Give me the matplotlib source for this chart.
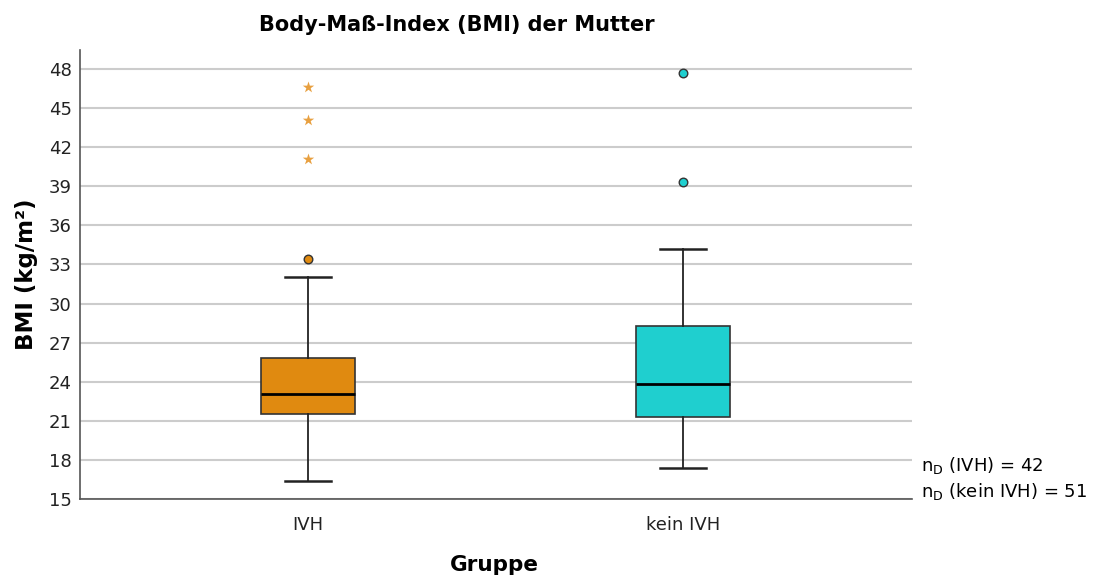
import matplotlib
matplotlib.use("Agg")
import matplotlib.pyplot as plt

plt.rcParams['font.family'] = ['DejaVu Sans']

categories = ["IVH", "kein IVH"]
q1 = [21.5, 21.27]
median = [23.03, 23.8]
q3 = [25.84, 28.28]
whislo = [16.4, 17.38]
whishi = [32.06, 34.19]
outliers_circle = [[33.42], [47.72, 39.33]]
outliers_star = [[46.6, 44.09, 41.07], []]
n_labels = ["n$_\\mathregular{D}$ (IVH) = 42", "n$_\\mathregular{D}$ (kein IVH) = 51"]

box_colors = ["#E08A10", "#1FCFCF"]
star_colors = ["#E8A040", "#1FCFCF"]
yticks = list(range(15, 49, 3))

fig = plt.figure(figsize=(10.94, 5.81), dpi=100)
ax = fig.add_axes([80/1094, 1 - 499/581, (912-80)/1094, (499-50)/581])

stats = []
for i, c in enumerate(categories):
    stats.append(dict(label=c, q1=q1[i], med=median[i], q3=q3[i],
                      whislo=whislo[i], whishi=whishi[i], fliers=[]))
bp = ax.bxp(stats, positions=[0, 1], widths=0.25, patch_artist=True,
            showfliers=False,
            medianprops=dict(color="black", linewidth=2),
            whiskerprops=dict(color="#222222", linewidth=1.3),
            capprops=dict(color="#222222", linewidth=1.8),
            boxprops=dict(edgecolor="#333333", linewidth=1.2),
            capwidths=0.123)
for patch, col in zip(bp['boxes'], box_colors):
    patch.set_facecolor(col)

for i in range(len(categories)):
    if outliers_circle[i]:
        ax.scatter([i]*len(outliers_circle[i]), outliers_circle[i], s=38,
                   facecolor=box_colors[i], edgecolor="#333333", linewidth=1.0, zorder=4)
    if outliers_star[i]:
        ax.scatter([i]*len(outliers_star[i]), outliers_star[i], marker='*', s=75,
                   color=star_colors[i], linewidth=0, zorder=4)

ax.set_ylim(15, 15 + (499-50)/13.03)
ax.set_xlim(-0.608, 1.611)
ax.set_yticks(yticks)
ax.set_xticks([0, 1])
ax.set_xticklabels(categories)
ax.tick_params(axis='both', length=0, labelsize=13, colors="#222222")
ax.tick_params(axis='y', pad=6)
ax.tick_params(axis='x', pad=12)
ax.yaxis.grid(True, color="#cccccc", linewidth=1.5)
ax.set_axisbelow(True)
for s in ["top", "right"]:
    ax.spines[s].set_visible(False)
for s in ["left", "bottom"]:
    ax.spines[s].set_color("#555555")
    ax.spines[s].set_linewidth(1.2)

ax.set_ylabel("BMI (kg/m²)", fontsize=16.5, fontweight='bold', labelpad=8)
fig.text(494/1094, 1 - 565/581, "Gruppe", fontsize=15.5, fontweight='bold', ha='center', va='center')
fig.text(457/1094, 1 - 25/581, "Body-Maß-Index (BMI) der Mutter", fontsize=15, fontweight='bold', ha='center', va='center')
fig.text(921/1094, 1 - 466/581, n_labels[0], fontsize=13, ha='left', va='center')
fig.text(921/1094, 1 - 492/581, n_labels[1], fontsize=13, ha='left', va='center')

fig.savefig("out.png", dpi=100)
